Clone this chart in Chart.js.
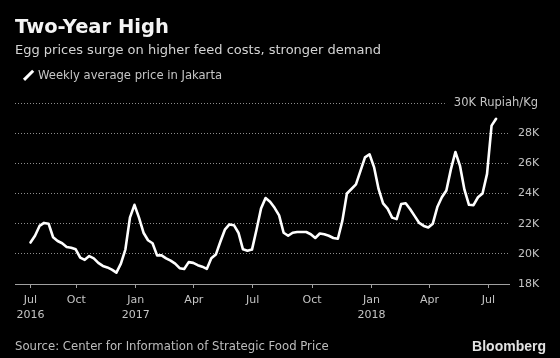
<!DOCTYPE html>
<html>
<head>
<meta charset="utf-8">
<script src="https://cdn.jsdelivr.net/npm/chart.js@4/dist/chart.umd.min.js"></script>
<style>
html,body{margin:0;padding:0;background:#000;}
#wrap{position:relative;width:560px;height:358px;overflow:hidden;background:#000;font-family:'DejaVu Sans',sans-serif;}
canvas{position:absolute;left:0;top:0;}
.t{position:absolute;white-space:nowrap;line-height:1;}
#title{left:15px;top:16.8px;font-size:19.5px;font-weight:bold;color:#f4f4f4;}
#sub{left:15px;top:43.3px;font-size:13px;color:#d4d4d4;}
#leg{left:38px;top:69.5px;font-size:11.6px;color:#c6c6c6;}
#legline{position:absolute;left:22.2px;top:74.2px;width:12.7px;height:2.6px;background:#fff;transform:rotate(-45deg);}
#src{left:15px;top:340.6px;font-size:11.7px;color:#bdbdbd;}
#logo{right:14px;top:338.9px;font-size:14px;font-weight:bold;font-family:'Liberation Sans',Arial,sans-serif;color:#e2e2e2;}
</style>
</head>
<body>
<div id="wrap">
<canvas id="c" width="560" height="358"></canvas>
<div class="t" id="title">Two-Year High</div>
<div class="t" id="sub">Egg prices surge on higher feed costs, stronger demand</div>
<div id="legline"></div>
<div class="t" id="leg">Weekly average price in Jakarta</div>
<div class="t" id="src">Source: Center for Information of Strategic Food Price</div>
<div class="t" id="logo">Bloomberg</div>
</div>
<script>
// ---- data ----
const FIRST_WEEK = '2016-07-22';          // first weekly observation
const PRICES = [                           // weekly average egg price, rupiah/kg
  20750, 21200, 21850, 22050, 22000, 21100, 20850, 20700, 20450, 20400,
  20300, 19750, 19600, 19850, 19700, 19400, 19200, 19100, 18950, 18750,
  19350, 20300, 22400, 23250, 22400, 21400, 20900, 20700, 19900, 19900,
  19700, 19550, 19350, 19050, 19000, 19450, 19400, 19250, 19150, 19000,
  19700, 19950, 20800, 21600, 21950, 21900, 21400, 20300, 20200, 20280,
  21600, 23000, 23700, 23450, 23050, 22550, 21400, 21200, 21400, 21450,
  21450, 21450, 21300, 21050, 21350, 21300, 21200, 21050, 21000, 22200,
  24000, 24300, 24600, 25500, 26400, 26600, 25750, 24300, 23350, 23000,
  22400, 22300, 23300, 23350, 22950, 22500, 22050, 21850, 21750, 22000,
  23100, 23750, 24200, 25600, 26750, 25850, 24250, 23250, 23230, 23750,
  24000, 25300, 28500, 28950
];
const TICK_DATES = ['2016-07-22','2016-10-01','2017-01-01','2017-04-01','2017-07-01',
                    '2017-10-01','2018-01-01','2018-04-01','2018-07-01'];
const TICK_LABELS = [['Jul','2016'],'Oct',['Jan','2017'],'Apr','Jul','Oct',['Jan','2018'],'Apr','Jul'];
const AXIS_START = '2016-06-28';
const AXIS_END = '2018-08-02';
const Y_MIN = 18000, Y_MAX = 30000, Y_STEP = 2000;
const UNIT = 'Rupiah/Kg';

// ---- helpers ----
const ORIGIN = Date.parse('2016-07-01');
const dayOf = d => (Date.parse(d) - ORIGIN) / 86400000;
const firstDay = dayOf(FIRST_WEEK);
const points = PRICES.map((v, i) => ({x: firstDay + 7 * i, y: v}));
const tickDays = TICK_DATES.map(dayOf);

const GRID = 'rgba(190,190,190,0.75)';
const TICKC = '#c4c4c4';
const AXISC = '#a0a0a0';
Chart.defaults.font.family = "'DejaVu Sans', sans-serif";

const topLabel = {
  id: 'topLabel',
  beforeDatasetsDraw(chart) {
    const {ctx, chartArea, scales: {y}} = chart;
    const yy = Math.round(y.getPixelForValue(Y_MAX)) + 0.5;
    const txt = (Y_MAX / 1000) + 'K ' + UNIT;
    ctx.save();
    ctx.font = "11.5px 'DejaVu Sans'";
    const w = ctx.measureText(txt).width;
    const right = chart.width - 22;
    ctx.fillStyle = TICKC;
    ctx.textAlign = 'right';
    ctx.textBaseline = 'middle';
    ctx.fillText(txt, right, yy);
    ctx.strokeStyle = GRID;
    ctx.lineWidth = 1;
    ctx.setLineDash([1, 2]);
    ctx.beginPath();
    ctx.moveTo(chartArea.left, yy);
    ctx.lineTo(right - w - 9, yy);
    ctx.stroke();
    ctx.restore();
  }
};

new Chart(document.getElementById('c'), {
  type: 'line',
  data: {
    datasets: [{
      data: points,
      borderColor: '#ffffff',
      borderWidth: 2.6,
      pointRadius: 0,
      tension: 0,
      borderJoinStyle: 'round',
      borderCapStyle: 'round',
      fill: false
    }]
  },
  options: {
    responsive: false,
    animation: false,
    layout: {padding: {left: 15, right: 0, top: 103, bottom: 34}},
    plugins: {legend: {display: false}, tooltip: {enabled: false}, title: {display: false}},
    scales: {
      x: {
        type: 'linear',
        min: dayOf(AXIS_START),
        max: dayOf(AXIS_END),
        afterBuildTicks: s => { s.ticks = tickDays.map(v => ({value: v})); },
        afterFit: s => { s.height = 40; },
        grid: {display: true, drawOnChartArea: false, drawTicks: true, tickLength: 4, color: AXISC, lineWidth: 1},
        border: {display: true, color: AXISC, width: 1},
        ticks: {
          autoSkip: false, maxRotation: 0, padding: 5, color: TICKC,
          font: {size: 11, lineHeight: 15 / 11},
          callback: (v, i) => TICK_LABELS[i]
        }
      },
      y: {
        position: 'right',
        min: Y_MIN, max: Y_MAX,
        afterFit: s => { s.width = 51; },
        grid: {
          drawTicks: false, lineWidth: 1,
          color: c => (c.tick && c.tick.value === Y_MAX) ? 'rgba(0,0,0,0)' : GRID
        },
        border: {display: false, dash: [1, 2]},
        ticks: {
          stepSize: Y_STEP, padding: 9, color: TICKC,
          font: {size: 11},
          callback: v => v === Y_MAX ? '' : (v / 1000) + 'K'
        }
      }
    }
  },
  plugins: [topLabel]
});
</script>
</body>
</html>
